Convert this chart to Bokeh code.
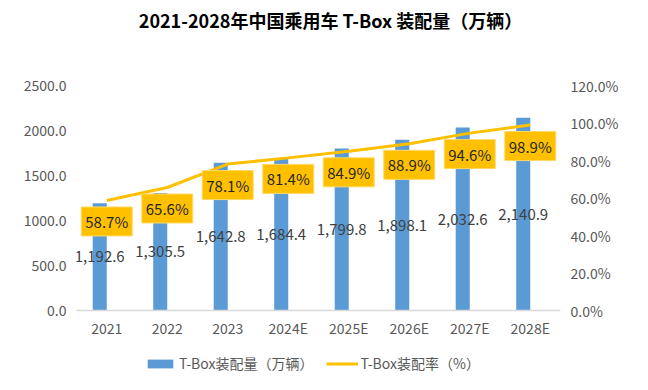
from bokeh.plotting import figure
from bokeh.layouts import column
from bokeh.models import (ColumnDataSource, Range1d, LinearAxis, FactorRange, LabelSet, Label,
                          Legend, LegendItem, SingleIntervalTicker, PrintfTickFormatter,
                          NumeralTickFormatter)
from bokeh.core.properties import value
from bokeh.transform import dodge
from bokeh.embed import file_html
from bokeh.resources import INLINE

years = ["2021", "2022", "2023", "2024E", "2025E", "2026E", "2027E", "2028E"]
volume = [1192.6, 1305.5, 1642.8, 1684.4, 1799.8, 1898.1, 2032.6, 2140.9]
rate = [58.7, 65.6, 78.1, 81.4, 84.9, 88.9, 94.6, 98.9]

title_text = "2021-2028年中国乘用车 T-Box 装配量（万辆）"
bar_name = "T-Box装配量（万辆）"
line_name = "T-Box装配率（%）"

FONT = "Noto Sans CJK SC"
BLUE = "#5B9BD5"
GOLD = "#FFC000"


def bare(fig):
    fig.outline_line_color = None
    fig.xgrid.grid_line_color = None
    fig.ygrid.grid_line_color = None
    return fig


src = ColumnDataSource(dict(
    year=years, vol=volume, rate=rate,
    vol_half=[v / 2 for v in volume],
    vol_lbl=[f"{v:,.1f}" for v in volume],
    rate_lbl=[f"{r:.1f}%" for r in rate],
))

# ---- title strip
tf = bare(figure(width=640, height=38, x_range=Range1d(0, 1), y_range=Range1d(0, 1),
                 output_backend="svg", toolbar_location=None,
                 x_axis_location=None, y_axis_location=None,
                 min_border_left=0, min_border_right=0, min_border_top=0, min_border_bottom=0))
tf.add_layout(Label(x=254, y=19, x_units="screen", y_units="screen", text=title_text,
                    text_align="center", text_baseline="middle", text_font=FONT,
                    text_font_size="18px", text_font_style="bold", text_color="#000000"))

# ---- main chart
p = bare(figure(width=640, height=302, x_range=FactorRange(*years), y_range=Range1d(0, 2500),
                output_backend="svg", toolbar_location=None,
                min_border_left=76, min_border_right=80, min_border_top=47, min_border_bottom=30))
p.extra_y_ranges = {"pct": Range1d(0, 120)}

bars = p.vbar(x=dodge("year", -0.116, range=p.x_range), top="vol", width=0.232,
              source=src, fill_color=BLUE, line_color=None)
line = p.line(x="year", y="rate", source=src, y_range_name="pct",
              line_color=GOLD, line_width=3)

xa = p.xaxis[0]
xa.axis_line_color = "#D9D9D9"
xa.axis_line_width = 1.5
xa.major_tick_line_color = None
xa.minor_tick_line_color = None
xa.major_tick_in = 0
xa.major_tick_out = 0
xa.major_label_standoff = 7
xa.major_label_text_font = FONT
xa.major_label_text_font_size = "14px"
xa.major_label_text_color = "#595959"

ya = p.yaxis[0]
ya.ticker = SingleIntervalTicker(interval=500)
ya.formatter = NumeralTickFormatter(format="0.0")
ya.axis_line_color = None
ya.major_tick_line_color = None
ya.minor_tick_line_color = None
ya.major_tick_in = 0
ya.major_tick_out = 0
ya.major_label_standoff = 6
ya.major_label_text_font = FONT
ya.major_label_text_font_size = "14px"
ya.major_label_text_color = "#595959"

ra = LinearAxis(y_range_name="pct", ticker=SingleIntervalTicker(interval=20),
                formatter=PrintfTickFormatter(format="%.1f%%"))
ra.axis_line_color = None
ra.major_tick_line_color = None
ra.minor_tick_line_color = None
ra.major_tick_in = 0
ra.major_tick_out = 0
ra.major_label_standoff = 6
ra.major_label_text_font = FONT
ra.major_label_text_font_size = "14px"
ra.major_label_text_color = "#595959"
p.add_layout(ra, "right")

bar_labels = LabelSet(x=dodge("year", -0.116, range=p.x_range), y="vol_half", text="vol_lbl",
                      source=src, text_align="center", text_baseline="middle",
                      text_font=value(FONT), text_font_size="15px", text_color="#404040")
p.add_layout(bar_labels)

p.text(x="year", y="rate", text="rate_lbl", source=src, y_range_name="pct",
       y_offset=21, text_align="center", text_baseline="middle",
       text_font=value(FONT), text_font_size="15px", text_color="#262626",
       background_fill_color=GOLD, border_line_color="#FFD966",
       padding=4)

# ---- legend strip (glyph styles mirror the main series; sample marks sit off-range)
lf = bare(figure(width=640, height=42, x_range=Range1d(0, 1), y_range=Range1d(0, 1),
                 output_backend="svg", toolbar_location=None,
                 x_axis_location=None, y_axis_location=None,
                 min_border_left=0, min_border_right=0, min_border_top=0, min_border_bottom=0))
lb = lf.vbar(x=[-10], top=[-10], width=0.1, fill_color=BLUE, line_color=None)
ll = lf.line(x=[-10, -9], y=[-10, -10], line_color=GOLD, line_width=3)

legend = Legend(items=[LegendItem(label=bar_name, renderers=[lb]),
                       LegendItem(label=line_name, renderers=[ll])],
                orientation="horizontal", location=(68, 9),
                label_text_font=FONT, label_text_font_size="14px",
                label_text_color="#595959", glyph_width=32, glyph_height=11,
                spacing=12, label_standoff=3, padding=4, margin=0,
                border_line_color=None, background_fill_alpha=0)
lf.add_layout(legend, "center")

layout = column(tf, p, lf, spacing=0)
open("out.html", "w").write(file_html(layout, INLINE))
